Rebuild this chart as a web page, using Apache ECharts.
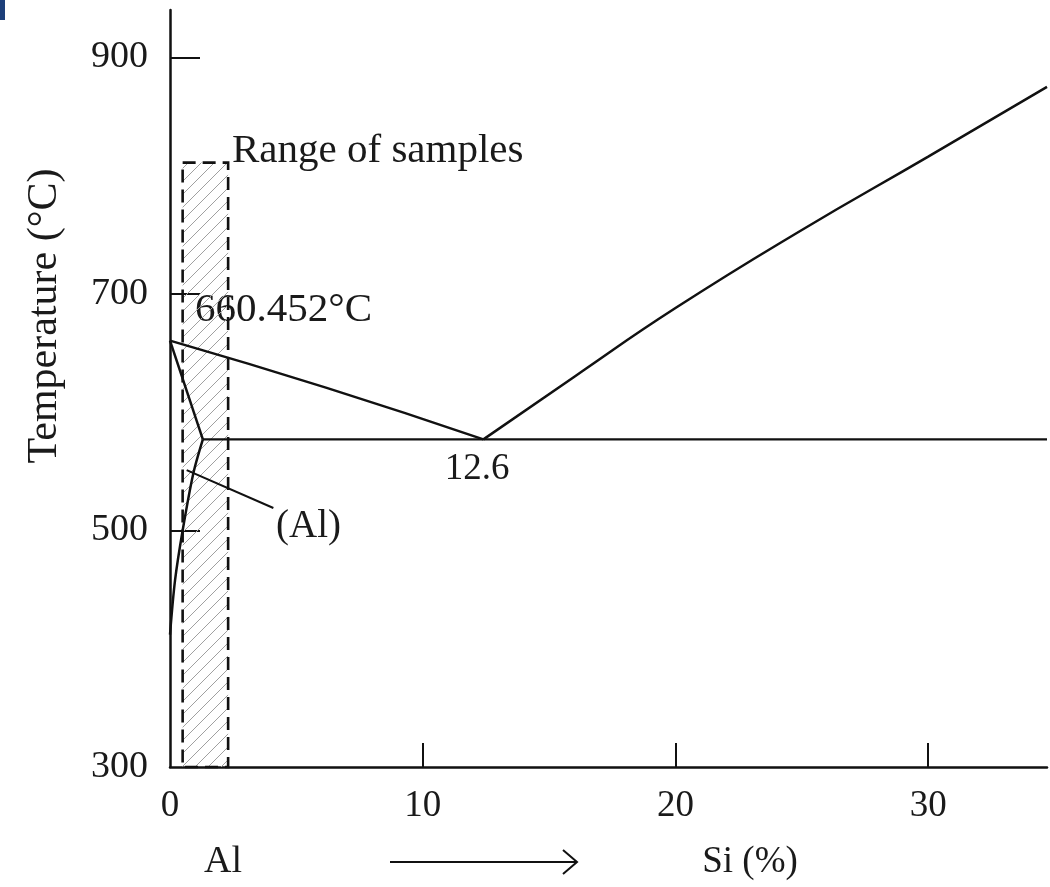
<!DOCTYPE html>
<html>
<head>
<meta charset="utf-8">
<script src="https://cdn.jsdelivr.net/npm/echarts@6/dist/echarts.min.js"></script>
<style>
  html, body { margin: 0; padding: 0; background: #fff; }
  #chart { width: 1050px; height: 887px; }
</style>
</head>
<body>
<div id="chart"></div>
<script>
// Al-Si phase diagram
const xTicks = [10, 20, 30];
const xLabels = [0, 10, 20, 30];
const yTicks = [500, 700, 900];
const yLabels = [300, 500, 700, 900];

// [Si %, temperature °C]
const liquidusAl = [[0, 660.452], [6.2, 620.5], [12.4, 577]];
const liquidusSi = [[12.4, 577], [16, 630], [20, 688], [25, 754], [30, 816], [34.7, 875]];
const solidus = [[0, 660.452], [1.3, 577]];
const solvus = [[1.3, 577], [0.92, 548], [0.5, 500], [0.2, 458], [0, 412]];
const eutectic = [[1.3, 577], [34.7, 577]];
const alLeader = [[0.66, 551], [4.09, 519]];
// sample range box: [x from, x to, top temp, bottom temp]
const sampleRange = [[0.5, 2.3, 811, 300]];

const FONT = "Liberation Serif";

function hatchCanvas() {
  const s = 13;
  const c = document.createElement("canvas");
  c.width = s; c.height = s;
  const g = c.getContext("2d");
  g.strokeStyle = "#a0a0a0";
  g.lineWidth = 1;
  g.beginPath();
  g.moveTo(0, s); g.lineTo(s, 0);
  g.moveTo(-s / 2, s / 2); g.lineTo(s / 2, -s / 2);
  g.moveTo(s / 2, s * 1.5); g.lineTo(s * 1.5, s / 2);
  g.stroke();
  return c;
}
const hatch = hatchCanvas();

function lineSeries(name, data, width, smooth) {
  return {
    name: name,
    type: "line",
    data: data,
    symbol: "none",
    smooth: smooth || false,
    animation: false,
    lineStyle: { color: "#111", width: width || 2.5 },
    z: 3
  };
}

const myChart = echarts.init(document.getElementById("chart"));
const option = {
  animation: false,
  backgroundColor: "#fff",
  grid: { left: 170, right: 3, top: 10, bottom: 120 },
  xAxis: {
    type: "value",
    min: 0,
    max: 34.7,
    interval: 10,
    splitLine: { show: false },
    axisLine: { lineStyle: { color: "#111", width: 2.5 } },
    axisTick: { inside: true, length: 24, customValues: xTicks, lineStyle: { color: "#111", width: 2 } },
    axisLabel: { customValues: xLabels, margin: 21, fontFamily: FONT, fontSize: 37, color: "#1a1a1a" }
  },
  yAxis: {
    type: "value",
    min: 300,
    max: 940,
    interval: 200,
    splitLine: { show: false },
    axisLine: { lineStyle: { color: "#111", width: 2.5 } },
    axisTick: { inside: true, length: 30, customValues: yTicks, lineStyle: { color: "#111", width: 2 } },
    axisLabel: { customValues: yLabels, margin: 22, fontFamily: FONT, fontSize: 38, color: "#1a1a1a" }
  },
  series: [
    {
      name: "Range of samples",
      type: "custom",
      data: sampleRange,
      clip: false,
      z: 1,
      renderItem: function (params, api) {
        const p0 = api.coord([api.value(0), api.value(2)]);
        const p1 = api.coord([api.value(1), api.value(3)]);
        const shape = { x: p0[0], y: p0[1], width: p1[0] - p0[0], height: p1[1] - p0[1] };
        return {
          type: "group",
          children: [
            { type: "rect", shape: shape, style: { fill: { image: hatch, repeat: "repeat" }, stroke: null } },
            { type: "rect", shape: shape, style: { fill: null, stroke: "#111", lineWidth: 2.6, lineDash: [13, 7] } }
          ]
        };
      }
    },
    lineSeries("liquidus (Al side)", liquidusAl, 2.5, 0.5),
    lineSeries("liquidus (Si side)", liquidusSi, 2.5, 0.5),
    lineSeries("solidus", solidus),
    lineSeries("solvus", solvus, 2.5, 0.3),
    lineSeries("eutectic", eutectic, 2.2),
    lineSeries("(Al) leader", alLeader, 2)
  ],
  graphic: [
    { type: "rect", left: 0, top: 0, shape: { width: 5, height: 20 }, style: { fill: "#1d3f7a" } },
    {
      type: "text", x: 45, y: 316, rotation: Math.PI / 2,
      style: { text: "Temperature (°C)", font: "42px " + FONT, fill: "#1a1a1a", align: "center", verticalAlign: "middle" }
    },
    { type: "text", x: 232, y: 151, style: { text: "Range of samples", font: "41px " + FONT, fill: "#1a1a1a", verticalAlign: "middle" } },
    { type: "text", x: 195, y: 310, style: { text: "660.452°C", font: "41px " + FONT, fill: "#1a1a1a", verticalAlign: "middle" } },
    { type: "text", x: 477, y: 469, style: { text: "12.6", font: "37px " + FONT, fill: "#1a1a1a", align: "center", verticalAlign: "middle" } },
    { type: "text", x: 276, y: 527, style: { text: "(Al)", font: "39px " + FONT, fill: "#1a1a1a", verticalAlign: "middle" } },
    { type: "text", x: 223, y: 862, style: { text: "Al", font: "38px " + FONT, fill: "#1a1a1a", align: "center", verticalAlign: "middle" } },
    { type: "line", shape: { x1: 390, y1: 862, x2: 576, y2: 862 }, style: { stroke: "#111", lineWidth: 2 } },
    { type: "polyline", shape: { points: [[563, 850], [577, 862], [563, 874]] }, style: { stroke: "#111", lineWidth: 2, fill: null } },
    { type: "text", x: 750, y: 862, style: { text: "Si (%)", font: "37px " + FONT, fill: "#1a1a1a", align: "center", verticalAlign: "middle" } }
  ]
};
myChart.setOption(option);
window.addEventListener("resize", () => myChart.resize(), false);
</script>
</body>
</html>
